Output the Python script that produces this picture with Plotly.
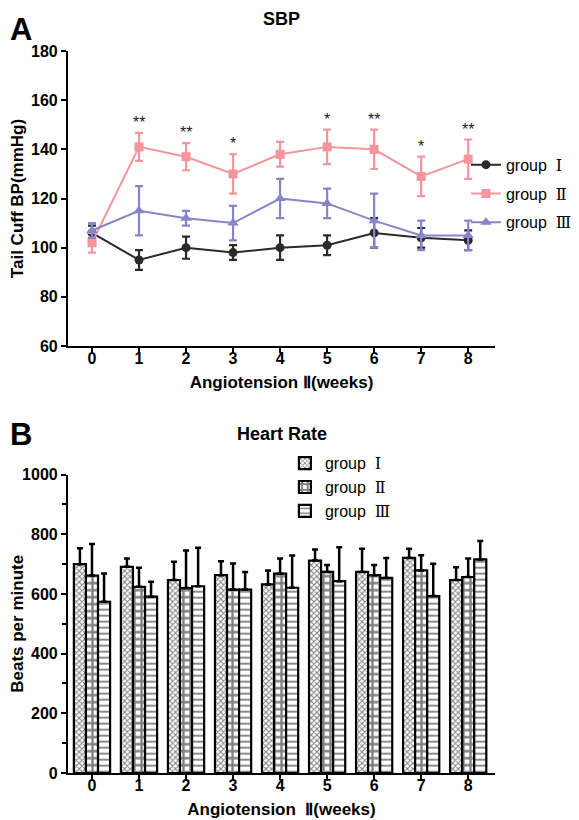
import plotly.graph_objects as go
from plotly.subplots import make_subplots

weeks = [0, 1, 2, 3, 4, 5, 6, 7, 8]
numerals = ["Ⅰ", "Ⅱ", "Ⅲ"]
group_names = ["group  <span style='font-family:DejaVu Serif'>%s</span>" % n for n in numerals]

# SBP (mmHg)
sbp_g1 = [106, 95, 100, 98, 100, 101, 106, 104, 103]
sbp_g1_err = [3, 4, 4.5, 3, 5, 4, 6, 4, 4]
sbp_g2 = [102, 141, 137, 130, 138, 141, 140, 129, 136]
sbp_g2_err = [4, 5.7, 5.5, 8, 5, 7, 8, 8, 8]
sbp_g3 = [107, 115, 112, 110, 120, 118, 111, 105, 105]
sbp_g3_err = [3, 10, 3, 7, 8, 6, 11, 6, 6]
sbp_stars = ["", "**", "**", "*", "", "*", "**", "*", "**"]

# Heart rate (beats per minute)
hr_g1 = [700, 691, 647, 663, 632, 712, 674, 721, 647]
hr_g1_err = [53, 28, 61, 47, 47, 37, 78, 31, 43]
hr_g2 = [662, 624, 620, 615, 668, 674, 663, 679, 657]
hr_g2_err = [106, 64, 126, 87, 51, 23, 34, 51, 62]
hr_g3 = [574, 591, 626, 615, 621, 643, 654, 593, 716]
hr_g3_err = [95, 50, 129, 59, 108, 114, 67, 108, 62]

col1 = "#2a2a2a"
col2 = "#F4959C"
col3 = "#8585C8"

fig = make_subplots(rows=2, cols=1, vertical_spacing=0.178)

font_main = "Liberation Sans, Arial, sans-serif"

series = [
    (sbp_g1, sbp_g1_err, col1, "circle"),
    (sbp_g2, sbp_g2_err, col2, "square"),
    (sbp_g3, sbp_g3_err, col3, "triangle-up"),
]
for i, ((vals, errs, col, sym), name) in enumerate(zip(series, group_names)):
    fig.add_trace(go.Scatter(
        x=weeks, y=vals, name=name, mode="lines+markers",
        line=dict(color=col, width=2),
        marker=dict(color=col, size=9 if sym != "triangle-up" else 10, symbol=sym),
        error_y=dict(type="data", array=errs, color=col, thickness=2.2, width=4),
        legend="legend", legendgroup="a%d" % i,
    ), row=1, col=1)

# significance stars
for w, v, e, s in zip(weeks, sbp_g2, sbp_g2_err, sbp_stars):
    if s:
        fig.add_annotation(x=w, y=v + e, text=s, showarrow=False, xref="x", yref="y",
                           yanchor="bottom", yshift=0,
                           font=dict(family=font_main, size=16, color="#222"))

bar_series = [
    (hr_g1, hr_g1_err, dict(shape="x", size=4, solidity=0.45)),
    (hr_g2, hr_g2_err, dict(shape="+", size=7, solidity=0.55)),
    (hr_g3, hr_g3_err, dict(shape="-", size=6, solidity=0.3)),
]
for i, ((vals, errs, pat), name) in enumerate(zip(bar_series, group_names)):
    fig.add_trace(go.Bar(
        x=weeks, y=vals, name=name,
        marker=dict(color="white", line=dict(color="black", width=2.2),
                    pattern=dict(fgcolor="black", bgcolor="white", fillmode="overlay", **pat)),
        error_y=dict(type="data", symmetric=False, array=errs, arrayminus=[0] * len(errs),
                     color="black", thickness=2.5, width=3),
        legend="legend2", legendgroup="b%d" % i,
    ), row=2, col=1)

axis_common = dict(showline=True, linecolor="black", linewidth=2.2, ticks="outside",
                   tickwidth=2.2, ticklen=5, tickcolor="black", showgrid=False, zeroline=False,
                   automargin=False,
                   tickfont=dict(family=font_main, size=16, color="black", weight="bold"),
                   title_font=dict(family=font_main, size=17, color="black", weight="bold"))

fig.update_xaxes(**axis_common, range=[-0.51, 8.57], tickvals=weeks, ticktext=[str(w) for w in weeks],
                 ticklabelstandoff=-8)
fig.update_xaxes(title_text="Angiotension Ⅱ(weeks)", title_standoff=10, row=1, col=1)
fig.update_xaxes(title_text="Angiotension  Ⅱ(weeks)", title_standoff=10, row=2, col=1)
fig.update_yaxes(**axis_common)
fig.update_yaxes(range=[60, 180], tickvals=[60, 80, 100, 120, 140, 160, 180],
                 title_text="Tail Cuff BP(mmHg)", title_standoff=6, row=1, col=1)
fig.update_yaxes(range=[0, 1000], tickvals=[0, 200, 400, 600, 800, 1000],
                 minor=dict(ticks="outside", dtick=100, ticklen=4, tickwidth=2, tickcolor="black"),
                 title_text="Beats per minute", title_standoff=6, row=2, col=1)

fig.update_layout(
    width=579, height=820,
    margin=dict(l=60, r=92, t=43, b=55, autoexpand=False),
    paper_bgcolor="white", plot_bgcolor="white",
    barmode="group", bargap=0.23, bargroupgap=0,
    font=dict(family=font_main, color="black"),
    xaxis=dict(domain=[0, 1]),
    yaxis=dict(domain=[0.5914, 1.0]),
    yaxis2=dict(domain=[0.0, 0.4132]),
    legend=dict(x=0.932, xanchor="left", y=0.866, yanchor="top", xref="paper", yref="paper",
                font=dict(family=font_main, size=16, color="black"), bgcolor="rgba(0,0,0,0)",
                itemwidth=30, tracegroupgap=5),
    legend2=dict(x=0.508, xanchor="left", y=0.4525, yanchor="top", xref="paper", yref="paper",
                 font=dict(family=font_main, size=16, color="black"), bgcolor="rgba(0,0,0,0)",
                 itemwidth=30, tracegroupgap=0),
    showlegend=True,
)

# panel titles and letters
fig.add_annotation(text="SBP", x=0.5, y=1.045, xref="paper", yref="paper", yanchor="middle",
                   showarrow=False,
                   font=dict(family=font_main, size=18, color="black", weight="bold"))
fig.add_annotation(text="Heart Rate", x=0.5, y=0.469, xref="paper", yref="paper", yanchor="middle",
                   showarrow=False,
                   font=dict(family=font_main, size=18, color="black", weight="bold"))
fig.add_annotation(text="A", x=-0.14, y=1.057, xref="paper", yref="paper", xanchor="left", yanchor="top",
                   showarrow=False,
                   font=dict(family=font_main, size=31, color="black", weight="bold"))
fig.add_annotation(text="B", x=-0.14, y=0.496, xref="paper", yref="paper", xanchor="left", yanchor="top",
                   showarrow=False,
                   font=dict(family=font_main, size=31, color="black", weight="bold"))

fig.write_html("out.html")
